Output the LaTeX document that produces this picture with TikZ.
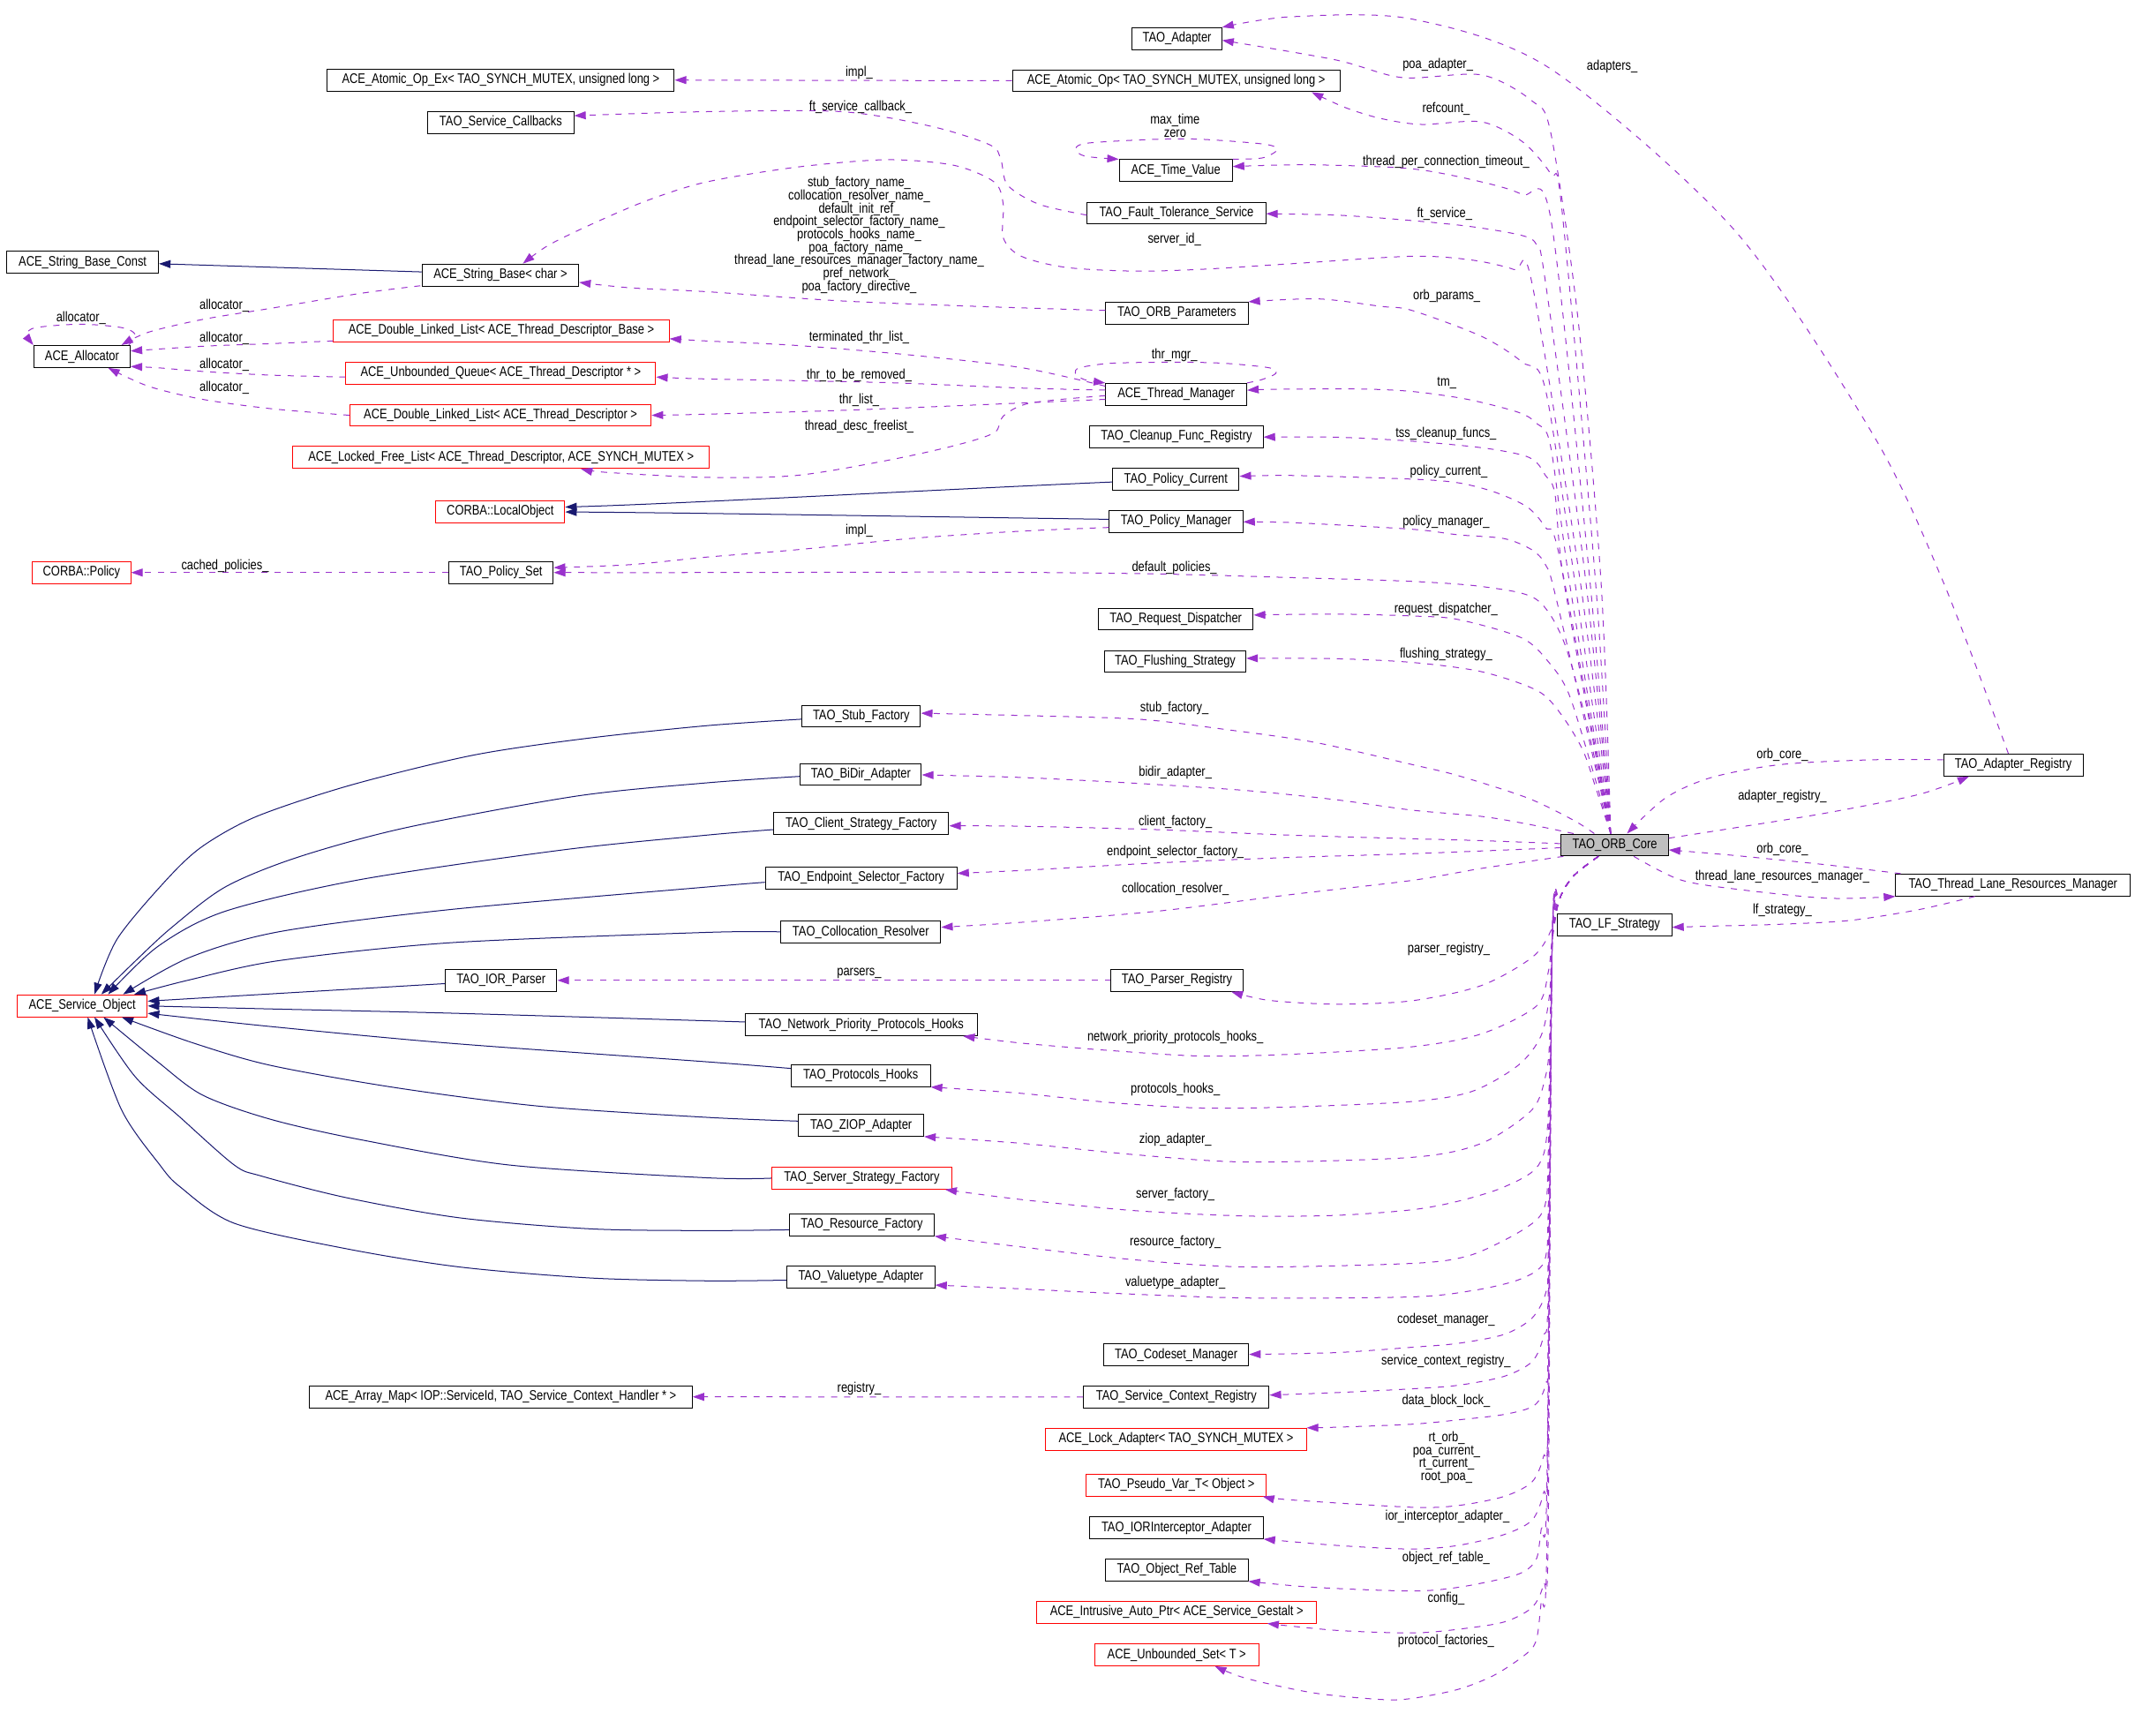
\documentclass[tikz,border=0pt]{standalone}
\usepackage{fontspec}
\newfontfamily\dfont{Liberation Sans}[FakeStretch=0.82]
\usetikzlibrary{arrows.meta,calc}
\definecolor{usec}{HTML}{9A32CD}
\definecolor{inhc}{HTML}{191970}
\definecolor{corefill}{HTML}{BFBFBF}
\begin{document}
\begin{tikzpicture}[x=1pt,y=-1pt,
  cbox/.style={draw=black,line width=0.65pt,minimum height=16.1pt,inner sep=0pt,fill=white,font=\dfont\fontsize{10.2}{11}\selectfont},
  rbox/.style={cbox,draw=red},
  elbl/.style={inner sep=0pt,align=center,font=\dfont\fontsize{10.2}{9.55}\selectfont},
  member/.style={draw=usec,line width=0.65pt,dash pattern=on 4.5pt off 5pt,-{Triangle[length=8.5pt,width=5.8pt]}},
  inherit/.style={draw=inhc,line width=0.65pt,-{Triangle[length=8.5pt,width=5.8pt]}}]
\fill[white] (0,0) rectangle (1568,1275);
\useasboundingbox (0,0) rectangle (1568,1275);

% ---------------- nodes ----------------
\node[cbox,minimum width=65.7pt] (adapter) at (864.4,28.4) {TAO\_Adapter};
\node[cbox,minimum width=254.7pt] (atomicex) at (367.8,58.8) {ACE\_Atomic\_Op\_Ex< TAO\_SYNCH\_MUTEX, unsigned long >};
\node[cbox,minimum width=240.4pt] (atomic) at (863.8,59.3) {ACE\_Atomic\_Op< TAO\_SYNCH\_MUTEX, unsigned long >};
\node[cbox,minimum width=107.1pt] (svccb) at (367.8,89.9) {TAO\_Service\_Callbacks};
\node[cbox,minimum width=83pt] (timeval) at (863.5,125.3) {ACE\_Time\_Value};
\node[cbox,minimum width=131.1pt] (fts) at (864,156.5) {TAO\_Fault\_Tolerance\_Service};
\node[cbox,minimum width=111.4pt] (sbconst) at (60.7,192.7) {ACE\_String\_Base\_Const};
\node[cbox,minimum width=115pt] (sbchar) at (367.5,202) {ACE\_String\_Base< char >};
\node[cbox,minimum width=104.5pt] (orbparams) at (864.3,230) {TAO\_ORB\_Parameters};
\node[cbox,minimum width=70.8pt] (alloc) at (60.2,261.8) {ACE\_Allocator};
\node[rbox,minimum width=246.4pt] (dllbase) at (368.2,243) {ACE\_Double\_Linked\_List< ACE\_Thread\_Descriptor\_Base >};
\node[rbox,minimum width=227.5pt] (ubq) at (367.8,274) {ACE\_Unbounded\_Queue< ACE\_Thread\_Descriptor * >};
\node[rbox,minimum width=221.2pt] (dlldesc) at (367.6,305) {ACE\_Double\_Linked\_List< ACE\_Thread\_Descriptor >};
\node[cbox,minimum width=103.5pt] (thrmgr) at (863.8,289.6) {ACE\_Thread\_Manager};
\node[rbox,minimum width=306pt] (lfl) at (368,336) {ACE\_Locked\_Free\_List< ACE\_Thread\_Descriptor, ACE\_SYNCH\_MUTEX >};
\node[cbox,minimum width=127.3pt] (cleanup) at (864,320.7) {TAO\_Cleanup\_Func\_Registry};
\node[cbox,minimum width=92.8pt] (polcur) at (863.6,352) {TAO\_Policy\_Current};
\node[rbox,minimum width=94.7pt] (localobj) at (367.4,375.9) {CORBA::LocalObject};
\node[cbox,minimum width=98.1pt] (polmgr) at (863.7,383) {TAO\_Policy\_Manager};
\node[rbox,minimum width=72.1pt] (policy) at (59.9,420.5) {CORBA::Policy};
\node[cbox,minimum width=76.7pt] (polset) at (368,420.5) {TAO\_Policy\_Set};
\node[cbox,minimum width=113.8pt] (reqdisp) at (863.5,454.7) {TAO\_Request\_Dispatcher};
\node[cbox,minimum width=103.8pt] (flush) at (863.1,485.8) {TAO\_Flushing\_Strategy};
\node[cbox,minimum width=87pt] (stub) at (632.5,526) {TAO\_Stub\_Factory};
\node[cbox,minimum width=89pt] (bidir) at (632.2,568.8) {TAO\_BiDir\_Adapter};
\node[cbox,minimum width=128.8pt] (csf) at (632.4,605) {TAO\_Client\_Strategy\_Factory};
\node[cbox,minimum width=140.7pt] (esf) at (632.4,644.8) {TAO\_Endpoint\_Selector\_Factory};
\node[cbox,minimum width=117.4pt] (collres) at (632.2,684.4) {TAO\_Collocation\_Resolver};
\node[cbox,minimum width=82pt] (iorparser) at (368,720) {TAO\_IOR\_Parser};
\node[cbox,minimum width=96.7pt] (parsereg) at (864.4,720) {TAO\_Parser\_Registry};
\node[rbox,minimum width=95.5pt] (svcobj) at (60.4,738.7) {ACE\_Service\_Object};
\node[cbox,minimum width=170.2pt] (npp) at (632.5,752.6) {TAO\_Network\_Priority\_Protocols\_Hooks};
\node[cbox,minimum width=102.2pt] (phooks) at (632.1,790) {TAO\_Protocols\_Hooks};
\node[cbox,minimum width=91.9pt] (ziop) at (632.4,826.4) {TAO\_ZIOP\_Adapter};
\node[rbox,minimum width=131.9pt] (ssf) at (632.9,865.3) {TAO\_Server\_Strategy\_Factory};
\node[cbox,minimum width=106.2pt] (resfac) at (632.9,899.5) {TAO\_Resource\_Factory};
\node[cbox,minimum width=108.7pt] (vta) at (632.2,937.8) {TAO\_Valuetype\_Adapter};
\node[cbox,minimum width=106.4pt] (codeset) at (863.8,995) {TAO\_Codeset\_Manager};
\node[cbox,minimum width=281.1pt] (arraymap) at (367.8,1025.9) {ACE\_Array\_Map< IOP::ServiceId, TAO\_Service\_Context\_Handler * >};
\node[cbox,minimum width=136.3pt] (scr) at (863.9,1026) {TAO\_Service\_Context\_Registry};
\node[rbox,minimum width=191.3pt] (lockad) at (863.7,1057) {ACE\_Lock\_Adapter< TAO\_SYNCH\_MUTEX >};
\node[rbox,minimum width=132.3pt] (pseudo) at (863.9,1090.7) {TAO\_Pseudo\_Var\_T< Object >};
\node[cbox,minimum width=127.3pt] (iorint) at (864,1122) {TAO\_IORInterceptor\_Adapter};
\node[cbox,minimum width=104.5pt] (objref) at (864.3,1153) {TAO\_Object\_Ref\_Table};
\node[rbox,minimum width=205.7pt] (intrusive) at (864.2,1184) {ACE\_Intrusive\_Auto\_Ptr< ACE\_Service\_Gestalt >};
\node[rbox,minimum width=120.4pt] (ubset) at (864.2,1215.3) {ACE\_Unbounded\_Set< T >};
\node[cbox,minimum width=78.7pt,fill=corefill] (core) at (1185.9,620.6) {TAO\_ORB\_Core};
\node[cbox,minimum width=102.3pt] (adreg) at (1478.6,561.9) {TAO\_Adapter\_Registry};
\node[cbox,minimum width=172.2pt] (tlrm) at (1478.4,650) {TAO\_Thread\_Lane\_Resources\_Manager};
\node[cbox,minimum width=83.9pt] (lfs) at (1185.8,679.3) {TAO\_LF\_Strategy};

\coordinate (cup) at ($(core.north)+(-3,0)$);
\coordinate (cdn) at ($(core.south)+(-12,0)$);

% ---------------- inheritance ----------------
\draw[inherit] ($(sbchar.west)+(0,-2.3)$) -- ($(sbconst.east)+(0,1)$);
\draw[inherit] ($(polcur.west)+(0,2)$) .. controls (700,359) and (500,370) .. ($(localobj.east)+(0,-3.5)$);
\draw[inherit] ($(polmgr.west)+(0,-1.6)$) .. controls (680,379.5) and (500,376.5) .. ($(localobj.east)+(0,0.1)$);

\draw[inherit] plot[smooth] coordinates {($(stub.west)+(0,2.2)$) (518.6,533) (430,542.4) (347.2,554.7) (258,576.5) (188.5,599.6) (148.8,621.5) (122.4,646) (86,689.7) ($(svcobj.north)+(9,0)$)};
\draw[inherit] plot[smooth] coordinates {($(bidir.west)+(0,1.4)$) (518.6,575) (423.3,584.7) (297.6,608) (218.3,629.7) (165.3,651.5) (125.7,681.5) (99.2,706) ($(svcobj.north)+(14,0)$)};
\draw[inherit] plot[smooth] coordinates {($(csf.west)+(0,4.3)$) (518.6,613.4) (413.4,624.2) (264.6,646) (165.3,669.3) (115.8,695.2) ($(svcobj.north)+(19,0)$)};
\draw[inherit] plot[smooth] coordinates {($(esf.west)+(0,3.2)$) (518.6,651.5) (330.7,668) (205,684.3) (139,703.3) ($(svcobj.north)+(30,0)$)};
\draw[inherit] plot[smooth] coordinates {(collres.west) (518.6,684.8) (330.6,692.4) (205,705.5) (139,719.7) ($(svcobj.north east)+(-10,0)$)};
\draw[inherit] ($(iorparser.west)+(0,2.4)$) -- ($(svcobj.east)+(0,-3.4)$);
\draw[inherit] plot[smooth] coordinates {($(npp.west)+(0,-2)$) (518.6,749.7) (330.6,744.1) (198.5,741) ($(svcobj.east)+(0,0.1)$)};
\draw[inherit] plot[smooth] coordinates {($(phooks.west)+(0,-5.3)$) (518.6,779.8) (330.6,766.2) (198.5,753.9) ($(svcobj.east)+(0,5.5)$)};
\draw[inherit] plot[smooth] coordinates {($(ziop.west)+(0,-3)$) (518.6,820.6) (396.8,812.5) (291,798.9) (198.5,782.4) (142.2,766.1) ($(svcobj.south)+(29,0)$)};
\draw[inherit] plot[smooth] coordinates {(ssf.west) (518.6,865) (373.7,855.6) (264.6,837) (198.5,822) (148.8,804.3) (115.8,779.8) ($(svcobj.south)+(15.6,0)$)};
\draw[inherit] plot[smooth] coordinates {($(resfac.west)+(0,3.7)$) (518.6,903.8) (433.3,902.5) (337.3,894.4) (254.7,879.7) (191.8,863.7) (172,855.6) (132.3,820.6) (99.2,790.7) ($(svcobj.south)+(9,0)$)};
\draw[inherit] plot[smooth] coordinates {($(vta.west)+(0,2.4)$) (518.6,940.7) (433.3,938.6) (337.3,930.5) (254.7,917.2) (172,898.4) (132.3,871.7) (117.4,855.6) (89.3,815.2) ($(svcobj.south)+(4,0)$)};

% ---------------- members: left part ----------------
\draw[member] (atomic.west) -- (atomicex.east);
\draw[member] plot[smooth] coordinates {($(fts.west)+(0,1.5)$) (763,150) (740,136) (735,117) (727,106.4) (684,92.8) (618,82) (518.6,82) ($(svccb.east)+(0,-4.9)$)};
\draw[member] plot[smooth] coordinates {(timeval.north east) (927,116) (938,110) (928.7,105.9) (882.4,102.3) (849,102.3) (799.7,105) (790,109) (796.4,114.6) (timeval.north west)};
\draw[member] plot[smooth] coordinates {(thrmgr.north east) (927,278.7) (937,274.2) (932,270.1) (898.9,266.8) (862.5,266) (816.2,266.8) (793,270.1) (789.8,274.2) (796.4,278.8) (thrmgr.north west)};
\draw[member] plot[smooth] coordinates {($(alloc.north east)+(-1.3,0)$) (99.2,245.5) (89.3,240.6) (59.5,238.1) (26.5,240.6) (19.8,245.5) (alloc.north west)};
\draw[member] plot[smooth] coordinates {($(orbparams.west)+(0,-2)$) (717,225) (617.8,221) (518.6,214.2) (463,211.4) ($(sbchar.east)+(0,5.4)$)};
\draw[member] plot[smooth] coordinates {($(thrmgr.west)+(0,-6)$) (750,270) (667.4,260.6) (584.7,253.7) (518.6,250.4) ($(dllbase.east)+(0,5.8)$)};
\draw[member] plot[smooth] coordinates {($(thrmgr.west)+(0,-3.1)$) (750,285) (650.8,281) (518.6,278.3) ($(ubq.east)+(0,2.9)$)};
\draw[member] plot[smooth] coordinates {($(thrmgr.west)+(0,3.7)$) (717,297.4) (617.8,301.4) (518.6,304.2) (dlldesc.east)};
\draw[member] plot[smooth] coordinates {($(thrmgr.west)+(0,1)$) (756.7,296) (736.8,305.6) (730.2,317.8) (700.5,327.4) (650.8,338.3) (584.7,349.2) (518.6,350.6) (446.5,347) ($(lfl.south)+(58.6,0)$)};
\draw[member] plot[smooth] coordinates {($(sbchar.south west)+(-1,-0.5)$) (264.5,215.5) (198.5,226.5) (148.8,234.6) (109,244) ($(alloc.north)+(29,0)$)};
\draw[member] plot[smooth] coordinates {($(dllbase.west)+(0,7.4)$) (198.5,252.4) (148.8,254.3) ($(alloc.east)+(0,-4)$)};
\draw[member] plot[smooth] coordinates {($(ubq.west)+(0,2.9)$) (198.5,275.5) (148.8,272.8) (115.8,270.1) ($(alloc.south east)+(0,-1)$)};
\draw[member] plot[smooth] coordinates {(dlldesc.west) (198.5,300.1) (148.8,293.3) (109.1,283.7) ($(alloc.south)+(19.2,0)$)};
\draw[member] (polset.west) -- (policy.east);
\draw[member] plot[smooth] coordinates {($(polmgr.west)+(0,4.4)$) (750,390.1) (667.4,395.6) (584.7,403.8) (518.6,409.2) (463,414.7) ($(polset.east)+(0,-3.6)$)};
\draw[member] (parsereg.west) -- (iorparser.east);
\draw[member] (scr.west) -- (arraymap.east);

% ---------------- members: from TAO_ORB_Core, upward ----------------
\draw[member] plot[smooth] coordinates {(cup) (1176,430) (1159,235) (1139,98) (1125,74) (1088,55) (1030,57) (981,44) ($(adapter.east)+(0,1.2)$)};
\draw[member] plot[smooth] coordinates {(cup) (1172,430) (1147,153) (1139,128) (1118,104) (1088,89.5) (1044,91.4) (1014,87) (988,79) ($(atomic.south east)+(-21,0)$)};
\draw[member] plot[smooth] coordinates {(cup) (1168,430) (1139,161) (1118,143) (1088,133.6) (1037,124) (962,121) ($(timeval.east)+(0,-3)$)};
\draw[member] plot[smooth] coordinates {(cup) (1165,430) (1135,207) (1128.5,180) (1118,173) (1081,166.5) (1037,162) (982,158) ($(fts.east)+(0,0.5)$)};
\draw[member] plot[smooth] coordinates {(cup) (1161,430) (1125,207.4) (1112,198) (1081,191) (1037,188.2) (948.3,193.7) (882.3,197.8) (832.8,199.1) (783,196.4) (750,188.2) (736.8,174.6) (736.8,150) (730.2,133.7) (700.5,121.4) (650.8,117.3) (584.7,122.8) (518.6,133.7) (476,147) (436.6,163.7) (403,180) ($(sbchar.north)+(16.5,0)$)};
\draw[member] plot[smooth] coordinates {(cup) (1157,430) (1135,286) (1118,266) (1088,247) (1037,228) (1014,225) (968,219.5) (orbparams.north east)};
\draw[member] plot[smooth] coordinates {(cup) (1153,430) (1138.7,327.4) (1128.5,311) (1115,302.8) (1077.8,293.3) (1037,287.5) (998,285.7) (935.3,285.9) ($(thrmgr.east)+(0,-3)$)};
\draw[member] plot[smooth] coordinates {(cup) (1149,430) (1142,362.9) (1135,349.2) (1128.5,339.7) (1118,334.2) (1088,328.8) (1037,324) (981.5,321.1) ($(cleanup.east)+(0,0.3)$)};
\draw[member] plot[smooth] coordinates {(cup) (1145.4,409.2) (1135,387.4) (1121.7,372.4) (1098,361.5) (1071,354.6) (1037,351.9) (948.3,349.2) ($(polcur.east)+(0,-2.2)$)};
\draw[member] plot[smooth] coordinates {(cup) (1143,440) (1135,414.7) (1125,403.8) (1104.8,395.6) (1071,392.8) (1037,388.7) (948.3,383.8) ($(polmgr.east)+(0,0.3)$)};
\draw[member] plot[smooth] coordinates {(cup) (1165,530) (1148,470) (1128,440) (1090,431) (1037,427) (948.3,424.2) (849,421.5) (717,420.2) (518.6,420.5) (polset.east)};
\draw[member] plot[smooth] coordinates {(cup) (1168,560) (1152.2,509.7) (1138.7,487.9) (1118,468.7) (1071,455) (1037,452.4) (981.5,451) ($(reqdisp.east)+(0,-3)$)};
\draw[member] plot[smooth] coordinates {(cup) (1172.6,580.6) (1162.3,550.6) (1145.5,523.3) (1128.6,507) (1088,493.3) (1037,486.5) (981.4,483.8) ($(flush.east)+(0,-2.3)$)};
\draw[member] plot[smooth] coordinates {($(core.north)+(-15,0)$) (1155.6,602.4) (1121.7,586) (1071,569.7) (1037,561.5) (965,545.1) (898.9,535.6) (836,528.2) (750,525.5) ($(stub.east)+(0,-2.2)$)};
\draw[member] plot[smooth] coordinates {($(core.north west)+(9.5,0)$) (1121.7,605.2) (1088,599.6) (1037,595) (981.5,587.4) (915.4,580.6) (832.8,575.2) (750,571) ($(bidir.east)+(0,0.3)$)};
\draw[member] plot[smooth] coordinates {($(core.west)+(0,-1)$) (1088,617.4) (1037,616) (948.3,613.4) (849,609.3) (750,606.8) ($(csf.east)+(0,1.5)$)};
\draw[member] plot[smooth] coordinates {($(core.west)+(0,2)$) (1037,627) (948.3,629.7) (849.2,633.8) (750,639.3) ($(esf.east)+(0,-3.4)$)};
\draw[member] plot[smooth] coordinates {($(core.south west)+(2,0)$) (1088,637.8) (1037,646.6) (948.3,657) (849.2,669.3) (750,677.4) ($(collres.east)+(0,-3.4)$)};

% ---------------- members: from TAO_ORB_Core, downward ----------------
\draw[member] plot[smooth] coordinates {(cdn) (1156,643) (1145.5,660) (1138.7,684.2) (1125,703.3) (1088,723.8) (1037,735) (981.5,737.5) (932,734.7) ($(parsereg.south east)+(-8.8,0)$)};
\draw[member] plot[smooth] coordinates {(cdn) (1156,643) (1145.5,660) (1140,690) (1137,714.3) (1128.5,738.8) (1088,759.3) (1037,768.8) (948.3,774.3) (882.2,775.6) (816,771.6) (750,766.1) ($(npp.south east)+(-10.6,0)$)};
\draw[member] plot[smooth] coordinates {(cdn) (1156,643) (1145.5,660) (1140,690) (1138,730) (1131.8,760.7) (1115,782.4) (1081,801.6) (1037,809) (948.3,813) (882.2,813.8) (816,809.8) (750,803) (phooks.south east)};
\draw[member] plot[smooth] coordinates {(cdn) (1156,643) (1145.5,660) (1140,690) (1138,765) (1135,790.7) (1125,815.2) (1088,839.7) (1037,850) (915.4,853.4) (832.8,848) (750,839.7) (ziop.south east)};
\draw[member] plot[smooth] coordinates {(cdn) (1156,643) (1145.5,660) (1140,690) (1137,820) (1130,855.6) (1104.8,871.7) (1071,882.2) (1037,888.5) (981.5,892.6) (915.4,893.1) (832.8,889.1) (750,881) ($(ssf.south east)+(-5,0)$)};
\draw[member] plot[smooth] coordinates {(cdn) (1156,643) (1145.5,660) (1140,690) (1137,850) (1135.3,882.4) (1128.6,895.8) (1108.2,909.1) (1077.8,922.5) (1037,927.9) (915.4,930.5) (832.8,925.2) (750,915.8) (resfac.south east)};
\draw[member] plot[smooth] coordinates {(cdn) (1156,643) (1145.5,660) (1140,690) (1137,890) (1135.3,922.5) (1128.6,933.2) (1111.6,941.2) (1081.2,947.9) (1037,952.5) (915.4,953.3) (816,949.8) (750,946.6) ($(vta.east)+(0,6)$)};
\draw[member] plot[smooth] coordinates {(cdn) (1156,643) (1145.5,660) (1140,690) (1137,920) (1135.3,949.2) (1125.2,968) (1104.8,980) (1071,986.6) (1037,989.5) (981.5,993.4) ($(codeset.east)+(0,-0.3)$)};
\draw[member] plot[smooth] coordinates {(cdn) (1156,643) (1145.5,660) (1140,690) (1137,950) (1133.6,981.3) (1125.2,1000) (1104.8,1010.8) (1071,1017.4) (1037,1020) (981.4,1022.8) ($(scr.east)+(0,-1.4)$)};
\draw[member] plot[smooth] coordinates {(cdn) (1156,643) (1145.5,660) (1140,690) (1137,985) (1135.3,1016) (1126.8,1032.2) (1104.8,1038.8) (1071,1042.8) (1037,1046) (981.4,1048.2) (lockad.north east)};
\draw[member] plot[smooth] coordinates {(cdn) (1156,643) (1145.5,660) (1140,690) (1137,1040) (1133.6,1069.5) (1125.2,1088.3) (1104.8,1099) (1071,1105.7) (1037,1107) (948.3,1101.6) ($(pseudo.south east)+(-3,0)$)};
\draw[member] plot[smooth] coordinates {(cdn) (1156,643) (1145.5,660) (1140,690) (1137,1065) (1133.6,1096.3) (1125.2,1116.4) (1104.8,1127) (1071,1135) (1037,1137.7) (981.4,1135) (iorint.south east)};
\draw[member] plot[smooth] coordinates {(cdn) (1156,643) (1145.5,660) (1140,690) (1136,1095) (1131.9,1123) (1128.6,1144.4) (1120,1153.8) (1104.8,1159.1) (1071,1165.8) (1037,1168.5) (965,1165.8) (objref.south east)};
\draw[member] plot[smooth] coordinates {(cdn) (1156,643) (1145.5,660) (1140,690) (1137,1130) (1133.6,1163.2) (1125.2,1180.5) (1104.8,1191.2) (1071,1196.6) (1037,1199.3) (981.4,1197.4) ($(intrusive.south east)+(-36.7,0)$)};
\draw[member] plot[smooth] coordinates {(cdn) (1156,643) (1145.5,660) (1140,690) (1136,1140) (1131.9,1176.5) (1128.6,1203.3) (1121.7,1214) (1098,1230) (1071,1240.7) (1037,1247.4) (1014.6,1248.2) (965,1243.4) (915.4,1232.7) ($(ubset.south)+(28,0)$)};

% ---------------- right side ----------------
\draw[member] plot[smooth] coordinates {($(adreg.west)+(0,-3.9)$) (1375.6,558) (1308,561.5) (1257,571) (1223.3,586) ($(core.north)+(9,0)$)};
\draw[member] plot[smooth] coordinates {($(core.east)+(0,-5)$) (1274,608) (1341.8,597) (1409.5,583.4) ($(adreg.south west)+(19,0)$)};
\draw[member] plot[smooth] coordinates {($(tlrm.north west)+(4,0)$) (1341.8,635.2) (1274,628.3) ($(core.east)+(0,3.6)$)};
\draw[member] plot[smooth] coordinates {($(core.south)+(14,0)$) (1233.5,646) (1274,652.9) (1341.8,659.7) (tlrm.south west)};
\draw[member] plot[smooth] coordinates {($(tlrm.south)+(-28,0)$) (1409.5,668) (1358.7,676) (1308,678.8) (1257,680.2) ($(lfs.east)+(0,1.7)$)};
\draw[member] plot[smooth] coordinates {($(adreg.north)+(-3.6,0)$) (1426.4,425.6) (1375.6,319.2) (1274,169.2) (1138.7,50.5) (1037,14) (948.3,12.3) (adapter.north east)};

% ---------------- labels ----------------
\node[elbl] (l1) at (631,53.5) {impl\_};
\node[elbl] (l2) at (632,78.5) {ft\_service\_callback\_};
\node[elbl] (l3) at (863,92.2) {max\_time\\zero};
\node[elbl] (l4) at (1056,47.8) {poa\_adapter\_};
\node[elbl] (l5) at (1184,48.6) {adapters\_};
\node[elbl] (l6) at (1062,80) {refcount\_};
\node[elbl] (l7) at (1062,119.2) {thread\_per\_connection\_timeout\_};
\node[elbl] (l8) at (1061,157.4) {ft\_service\_};
\node[elbl] (l9) at (862.5,176) {server\_id\_};
\node[elbl] (l10) at (631,172.7) {stub\_factory\_name\_\\collocation\_resolver\_name\_\\default\_init\_ref\_\\endpoint\_selector\_factory\_name\_\\protocols\_hooks\_name\_\\poa\_factory\_name\_\\thread\_lane\_resources\_manager\_factory\_name\_\\pref\_network\_\\poa\_factory\_directive\_};
\node[elbl] (l11) at (1062.5,217.4) {orb\_params\_};
\node[elbl] (l12) at (59.5,233.3) {allocator\_};
\node[elbl] (l13) at (164.7,224.3) {allocator\_};
\node[elbl] (l14) at (164.7,248.8) {allocator\_};
\node[elbl] (l15) at (164.7,268.2) {allocator\_};
\node[elbl] (l16) at (164.7,285.1) {allocator\_};
\node[elbl] (l17) at (631,247.7) {terminated\_thr\_list\_};
\node[elbl] (l18) at (862.5,261) {thr\_mgr\_};
\node[elbl] (l19) at (631,275.5) {thr\_to\_be\_removed\_};
\node[elbl] (l20) at (631,293.8) {thr\_list\_};
\node[elbl] (l21) at (631,313.2) {thread\_desc\_freelist\_};
\node[elbl] (l22) at (1062.5,281.5) {tm\_};
\node[elbl] (l23) at (1062,318.4) {tss\_cleanup\_funcs\_};
\node[elbl] (l24) at (1064,346.5) {policy\_current\_};
\node[elbl] (l25) at (1062,383.3) {policy\_manager\_};
\node[elbl] (l26) at (631,389.6) {impl\_};
\node[elbl] (l27) at (862.5,416.9) {default\_policies\_};
\node[elbl] (l28) at (165.3,416) {cached\_policies\_};
\node[elbl] (l29) at (1062,447.5) {request\_dispatcher\_};
\node[elbl] (l30) at (1062,480.5) {flushing\_strategy\_};
\node[elbl] (l31) at (862.5,520) {stub\_factory\_};
\node[elbl] (l32) at (863.2,567.5) {bidir\_adapter\_};
\node[elbl] (l33) at (863.2,603.8) {client\_factory\_};
\node[elbl] (l34) at (863.2,625.6) {endpoint\_selector\_factory\_};
\node[elbl] (l35) at (863.2,652.9) {collocation\_resolver\_};
\node[elbl] (l36) at (631,714.8) {parsers\_};
\node[elbl] (l37) at (1064,697.3) {parser\_registry\_};
\node[elbl] (l38) at (863.2,762) {network\_priority\_protocols\_hooks\_};
\node[elbl] (l39) at (863.2,800.2) {protocols\_hooks\_};
\node[elbl] (l40) at (863.2,837) {ziop\_adapter\_};
\node[elbl] (l41) at (863.2,877.6) {server\_factory\_};
\node[elbl] (l42) at (863.2,912.6) {resource\_factory\_};
\node[elbl] (l43) at (863.2,942) {valuetype\_adapter\_};
\node[elbl] (l44) at (1062,969.5) {codeset\_manager\_};
\node[elbl] (l45) at (1062,1000) {service\_context\_registry\_};
\node[elbl] (l46) at (1062,1029) {data\_block\_lock\_};
\node[elbl] (l47) at (1062.4,1070.4) {rt\_orb\_\\poa\_current\_\\rt\_current\_\\root\_poa\_};
\node[elbl] (l48) at (1063,1114) {ior\_interceptor\_adapter\_};
\node[elbl] (l49) at (1062,1144.4) {object\_ref\_table\_};
\node[elbl] (l50) at (1062,1174.4) {config\_};
\node[elbl] (l51) at (1062,1205.2) {protocol\_factories\_};
\node[elbl] (l52) at (631,1020) {registry\_};
\node[elbl] (l53) at (1309,554.7) {orb\_core\_};
\node[elbl] (l54) at (1309,585.2) {adapter\_registry\_};
\node[elbl] (l55) at (1309,623.5) {orb\_core\_};
\node[elbl] (l56) at (1309,644.2) {thread\_lane\_resources\_manager\_};
\node[elbl] (l57) at (1309,668.7) {lf\_strategy\_};
\end{tikzpicture}
\end{document}
